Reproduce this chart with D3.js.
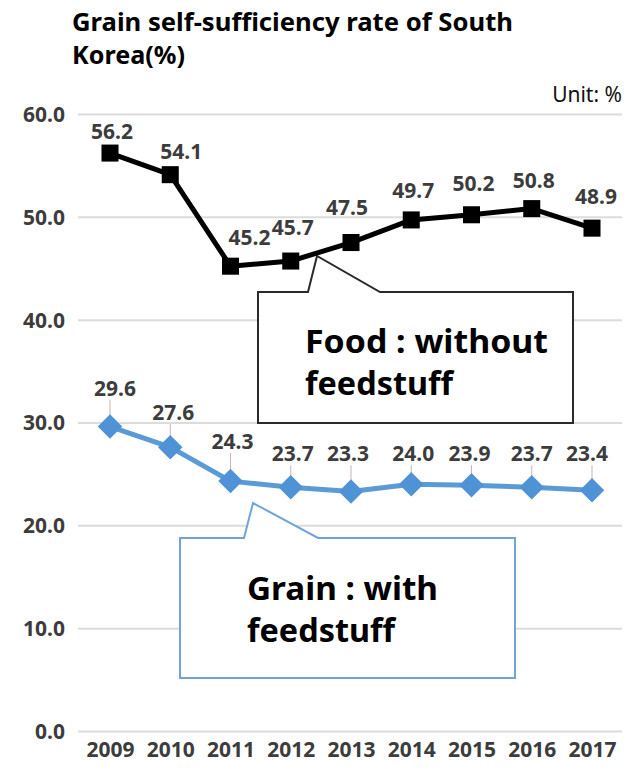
<!DOCTYPE html>
<html>
<head>
<meta charset="utf-8">
<script src="https://cdn.jsdelivr.net/npm/d3@7"></script>
<style>
  html, body { margin: 0; padding: 0; background: #fff; }
  svg { display: block; font-family: "Noto Sans", "Open Sans", sans-serif; }
</style>
</head>
<body>
<div id="chart"></div>
<script>
// data
var years = ["2009", "2010", "2011", "2012", "2013", "2014", "2015", "2016", "2017"];
var foodRate = [56.2, 54.1, 45.2, 45.7, 47.5, 49.7, 50.2, 50.8, 48.9];
var grainRate = [29.6, 27.6, 24.3, 23.7, 23.3, 24.0, 23.9, 23.7, 23.4];
var yTicks = [0, 10, 20, 30, 40, 50, 60];
var titleLines = ["Grain self-sufficiency rate of South", "Korea(%)"];
var foodNote = ["Food : without", "feedstuff"];
var grainNote = ["Grain : with", "feedstuff"];

var width = 630, height = 775;

var svg = d3.select("#chart").append("svg")
    .attr("width", width).attr("height", height);

svg.append("rect").attr("width", width).attr("height", height).attr("fill", "#fff");

var x = d3.scalePoint().domain(years).range([110, 592]);
var y = d3.scaleLinear().domain([0, 60]).range([731, 114]);

// title (original font is narrower, so squeeze the first line to its width)
var titleW = [441, 113];
titleLines.forEach(function(t, i) {
    svg.append("text")
        .attr("x", 72).attr("y", 31 + i * 33)
        .attr("font-size", 24.5).attr("font-weight", "bold").attr("fill", "#000")
        .attr("textLength", titleW[i]).attr("lengthAdjust", "spacingAndGlyphs")
        .text(t);
});

svg.append("text")
    .attr("x", 622).attr("y", 102).attr("text-anchor", "end")
    .attr("font-size", 21).attr("fill", "#111")
    .text("Unit: %");

// grid + y axis labels
var yAxis = d3.axisLeft(y).tickValues(yTicks).tickSize(-(622 - 78)).tickFormat(d3.format(".1f"));
var yg = svg.append("g").attr("transform", "translate(78,0)").call(yAxis);
yg.select(".domain").remove();
yg.selectAll(".tick line").attr("stroke", "#dcdcdc").attr("stroke-width", 2);
yg.selectAll(".tick text")
    .attr("x", -13).attr("dy", "0.35em")
    .attr("font-size", 21).attr("font-weight", "bold").attr("fill", "#3c3c3c")
    .attr("font-family", "Noto Sans, sans-serif");

// x axis labels
var xAxis = d3.axisBottom(x).tickSize(0);
var xg = svg.append("g").attr("transform", "translate(0,742)").call(xAxis);
xg.select(".domain").remove();
xg.selectAll(".tick text")
    .attr("y", 0).attr("dy", "0.71em")
    .attr("font-size", 21).attr("font-weight", "bold").attr("fill", "#3c3c3c")
    .attr("font-family", "Noto Sans, sans-serif");

// callout boxes
function callout(left, right, top, bottom, baseL, tipX, tipY, baseR, color) {
    var p = d3.path();
    p.moveTo(left, top);
    p.lineTo(baseL, top);
    p.lineTo(tipX, tipY);
    p.lineTo(baseR, top);
    p.lineTo(right, top);
    p.lineTo(right, bottom);
    p.lineTo(left, bottom);
    p.closePath();
    svg.append("path").attr("d", p.toString())
        .attr("fill", "#fff").attr("stroke", color).attr("stroke-width", 2);
}
callout(258, 573, 292, 423, 308, 317, 256, 380, "#2a2a2a");
callout(180, 515, 538, 678, 244, 253, 503, 318, "#6fa3da");

function noteText(lines, x0, y0, widths) {
    lines.forEach(function(t, i) {
        svg.append("text")
            .attr("x", x0).attr("y", y0 + i * 42)
            .attr("font-size", 32).attr("font-weight", "bold").attr("fill", "#000")
            .attr("textLength", widths[i]).attr("lengthAdjust", "spacingAndGlyphs")
            .text(t);
    });
}
noteText(foodNote, 305, 353, [243, 148]);
noteText(grainNote, 247, 600, [191, 148]);

// lines
var line = d3.line().x(function(d, i) { return x(years[i]); }).y(function(d) { return y(d); });

svg.append("path").datum(grainRate).attr("d", line)
    .attr("fill", "none").attr("stroke", "#5b9bd5").attr("stroke-width", 5).attr("stroke-linejoin", "round");
svg.append("path").datum(foodRate).attr("d", line)
    .attr("fill", "none").attr("stroke", "#000").attr("stroke-width", 5).attr("stroke-linejoin", "round");

// label offsets (dx, dy from marker centre) as placed in the original
var foodLabelOff = [[2, -14], [11, -16], [19, -21], [2, -26], [-4, -28], [2, -22], [2, -24], [2, -21], [4, -24]];
var grainLabelOff = [[5, -31], [3, -27], [2, -32], [2, -26], [-3, -30], [2, -23], [-2, -24], [0, -26], [-5, -29]];

// leader ticks
svg.selectAll(".gtick").data(grainRate).enter().append("line")
    .attr("x1", function(d, i) { return x(years[i]); })
    .attr("x2", function(d, i) { return x(years[i]); })
    .attr("y1", function(d, i) { return y(d) + grainLabelOff[i][1] + 4; })
    .attr("y2", function(d) { return y(d) - 6; })
    .attr("stroke", "#c9b3b3").attr("stroke-width", 1);

// markers
var sym = d3.symbol().type(d3.symbolSquare).size(300);
svg.selectAll(".gm").data(grainRate).enter().append("path")
    .attr("d", sym)
    .attr("transform", function(d, i) { return "translate(" + x(years[i]) + "," + y(d) + ") rotate(45)"; })
    .attr("fill", "#4f93d6");

var sq = d3.symbol().type(d3.symbolSquare).size(290);
svg.selectAll(".fm").data(foodRate).enter().append("path")
    .attr("d", sq)
    .attr("transform", function(d, i) { return "translate(" + x(years[i]) + "," + y(d) + ")"; })
    .attr("fill", "#000");

// value labels
function valueLabels(data, off) {
    svg.append("g").selectAll("text").data(data).enter().append("text")
        .attr("x", function(d, i) { return x(years[i]) + off[i][0]; })
        .attr("y", function(d, i) { return y(d) + off[i][1]; })
        .attr("text-anchor", "middle")
        .attr("font-size", 21).attr("font-weight", "bold").attr("fill", "#3c3c3c")
        .text(function(d) { return d.toFixed(1); });
}
valueLabels(foodRate, foodLabelOff);
valueLabels(grainRate, grainLabelOff);
</script>
</body>
</html>
